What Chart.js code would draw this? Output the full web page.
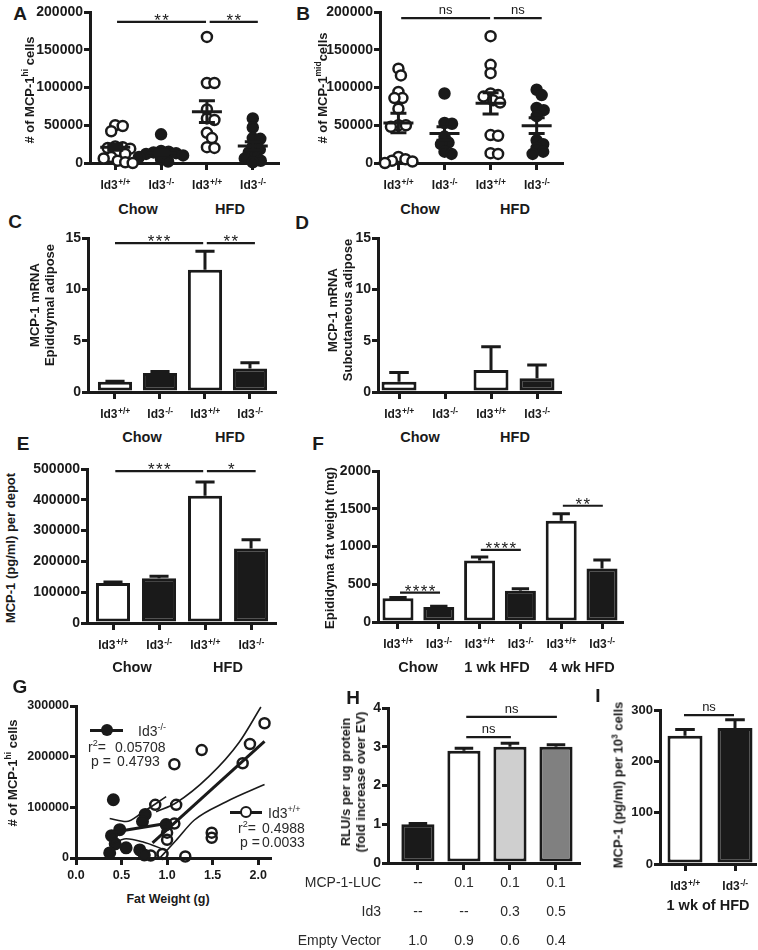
<!DOCTYPE html>
<html><head><meta charset="utf-8">
<script src="https://cdn.jsdelivr.net/npm/chart.js@4.4.1/dist/chart.umd.min.js"></script>
<style>
body{margin:0;background:#fff;width:758px;height:950px;position:relative;overflow:hidden;font-family:'Liberation Sans',Arial,sans-serif;color:#1a1a1a}
canvas{position:absolute}
.t{position:absolute;white-space:nowrap;font-weight:bold;transform:translate(-50%,-50%);line-height:1}
.lt{font-size:19px}
.gl{font-size:14.5px}
.yt{position:absolute;white-space:nowrap;font-weight:bold;font-size:13px;transform:translate(-50%,-50%) rotate(-90deg);text-align:center;line-height:15px}
.n{position:absolute;white-space:nowrap;font-size:14px;color:#2a2a2a;transform:translateY(-50%);line-height:1}
sup{font-size:65%;line-height:0}
</style></head><body>
<script>
// ================= DATA =================
const genoLabels = [['Id3','+/+'],['Id3','-/-'],['Id3','+/+'],['Id3','-/-']];
const fLabels = [['Id3','+/+'],['Id3','-/-'],['Id3','+/+'],['Id3','-/-'],['Id3','+/+'],['Id3','-/-']];
const iLabels = [['Id3','+/+'],['Id3','-/-']];

// A: # of MCP-1hi cells (individual mice)
const A_wtChow = [50000, 49000, 42000, 22000, 21000, 20000, 19000, 13000, 12000, 8000, 6000, 3000, 1000, 0];
const A_koChow = [38000, 16000, 15000, 14000, 13000, 12000, 10000, 8000, 5000, 2000];
const A_wtHfd  = [167000, 106000, 106000, 71000, 59000, 57000, 40000, 33000, 21000, 20000];
const A_koHfd  = [59000, 47000, 33000, 32000, 22000, 18000, 14000, 10000, 6000, 3000, 1000];
const A_mean = [21000, 13500, 68000, 22500];
const A_sem  = [4000, 3300, 14500, 5500];

// B: # of MCP-1mid cells
const B_wtChow = [125000, 116000, 94000, 86000, 86000, 72000, 50000, 50000, 48000, 8000, 5000, 3000, 2000, 0];
const B_koChow = [92000, 53000, 52000, 35000, 27000, 25000, 15000, 12000];
const B_wtHfd  = [168000, 130000, 119000, 92000, 90000, 88000, 83000, 80000, 37000, 36000, 13000, 12000];
const B_koHfd  = [97000, 90000, 73000, 70000, 62000, 30000, 25000, 20000, 15000, 12000];
const B_mean = [53000, 39000, 79000, 49500];
const B_sem  = [13000, 9000, 14000, 10500];

// C: MCP-1 mRNA epididymal adipose
const C_mean = [1.0, 1.85, 11.9, 2.3];
const C_err  = [0.05, 0.15, 1.8, 0.55];
// D: MCP-1 mRNA subcutaneous adipose
const D_mean = [1.0, 0, 2.15, 1.33];
const D_err  = [0.9, 0, 2.25, 1.3];
// E: MCP-1 (pg/ml) per depot
const E_mean = [130000, 145000, 413000, 242000];
const E_err  = [3000, 7000, 45000, 28000];
// F: epididymal fat weight (mg)
const F_mean = [315, 200, 815, 415, 1340, 710];
const F_err  = [10, 8, 45, 25, 95, 110];
// G: fat weight (g) vs # MCP-1hi cells
const G_koX = [0.41, 0.76, 0.73, 0.99, 0.48, 0.39, 0.43, 0.70, 0.75, 0.37, 0.55];
const G_koY = [115000, 86000, 72000, 66000, 56000, 44000, 28000, 16000, 6000, 10000, 20000];
const G_wtX = [2.07, 1.91, 1.83, 1.38, 1.08, 1.10, 0.87, 1.08, 1.00, 1.00, 1.49, 1.49, 0.82, 0.95, 1.20];
const G_wtY = [266000, 225000, 187000, 213000, 185000, 105000, 105000, 68000, 50000, 36000, 50000, 40000, 5000, 8000, 3000];
const G_wtFitX = [0.84, 2.07], G_wtFitY = [30000, 230000];
const G_wtUpX = [0.88, 1.1, 1.46, 1.79, 2.03], G_wtUpY = [91000, 109000, 161000, 228000, 298000];
const G_wtLoX = [0.92, 1.1, 1.3, 1.65, 2.07], G_wtLoY = [0, 35000, 75000, 111000, 145000];
const G_koFitX = [0.37, 0.99], G_koFitY = [50000, 68000];
const G_koUpX = [0.37, 0.55, 0.73, 0.99], G_koUpY = [78000, 72000, 90000, 121000];
const G_koLoX = [0.37, 0.55, 0.73, 0.99], G_koLoY = [25000, 38000, 32000, 15000];
// H: luciferase
const H_mean = [1.0, 2.9, 3.0, 3.0];
const H_err  = [0.02, 0.06, 0.09, 0.05];
const H_rowLabels = ['MCP-1-LUC', 'Id3', 'Empty Vector'];
const H_rows = [['--','0.1','0.1','0.1'], ['--','--','0.3','0.5'], ['1.0','0.9','0.6','0.4']];
// I: MCP-1 per 10^3 cells
const I_mean = [250, 265];
const I_err  = [12, 16];

// ================= SETUP =================
const INK = '#1a1a1a';
const FONT = "'Liberation Sans', Arial, sans-serif";
Chart.defaults.font.family = FONT;
Chart.defaults.color = INK;
Chart.defaults.animation = false;
Chart.defaults.responsive = false;
Chart.defaults.devicePixelRatio = 1;
Chart.defaults.plugins.legend.display = false;
Chart.defaults.plugins.tooltip.enabled = false;

const errPlugin = {
  id: 'errbars',
  afterDatasetsDraw(chart, args, opts) {
    if (!opts.err) return;
    const meta = chart.getDatasetMeta(0), ys = chart.scales.y, ctx = chart.ctx;
    ctx.save(); ctx.strokeStyle = INK; ctx.lineWidth = 3; ctx.lineCap = 'butt';
    meta.data.forEach((bar, i) => {
      const e = opts.err[i]; if (!e) return;
      const v = chart.data.datasets[0].data[i].y;
      const y0 = ys.getPixelForValue(v), y1 = ys.getPixelForValue(v + e);
      const cw = bar.width * 0.28;
      ctx.beginPath(); ctx.moveTo(bar.x, y0); ctx.lineTo(bar.x, y1);
      ctx.moveTo(bar.x - cw, y1); ctx.lineTo(bar.x + cw, y1); ctx.stroke();
    });
    ctx.restore();
  }
};
const meanPlugin = {
  id: 'meansem',
  afterDatasetsDraw(chart, args, opts) {
    if (!opts.mean) return;
    const xs = chart.scales.x, ys = chart.scales.y, ctx = chart.ctx;
    ctx.save(); ctx.strokeStyle = INK; ctx.lineWidth = 3;
    opts.mean.forEach((m, i) => {
      const cx = xs.getPixelForValue(i + 1);
      const y = ys.getPixelForValue(m), yu = ys.getPixelForValue(m + opts.sem[i]), yl = ys.getPixelForValue(m - opts.sem[i]);
      ctx.beginPath();
      ctx.moveTo(cx - 15, y); ctx.lineTo(cx + 15, y);
      ctx.moveTo(cx, yu); ctx.lineTo(cx, yl);
      ctx.moveTo(cx - 8, yu); ctx.lineTo(cx + 8, yu);
      ctx.moveTo(cx - 8, yl); ctx.lineTo(cx + 8, yl);
      ctx.stroke();
    });
    ctx.restore();
  }
};
const sigPlugin = {
  id: 'sig',
  afterDraw(chart, args, opts) {
    if (!opts.items) return;
    const xs = chart.scales.x, ys = chart.scales.y, ctx = chart.ctx;
    ctx.save();
    opts.items.forEach(it => {
      const x1 = xs.getPixelForValue(it.a), x2 = xs.getPixelForValue(it.b), y = ys.getPixelForValue(it.y);
      ctx.strokeStyle = INK; ctx.lineWidth = 2.2;
      ctx.beginPath(); ctx.moveTo(x1, y); ctx.lineTo(x2, y); ctx.stroke();
      ctx.fillStyle = INK; ctx.textAlign = 'center'; ctx.textBaseline = 'alphabetic';
      if (it.t === 'ns') { ctx.font = '13px ' + FONT; ctx.fillText(it.t, (x1 + x2) / 2, y - 4); }
      else { ctx.font = '17px ' + FONT; ctx.fillText(it.t.split('').join('\u200A'), (x1 + x2) / 2, y + 4); }
    });
    ctx.restore();
  }
};
const xlabPlugin = {
  id: 'xlab',
  afterDraw(chart, args, opts) {
    if (!opts.labels) return;
    const xs = chart.scales.x, ctx = chart.ctx;
    const yb = chart.chartArea.bottom + 26;
    ctx.save(); ctx.fillStyle = INK; ctx.textBaseline = 'alphabetic'; ctx.textAlign = 'left';
    opts.labels.forEach((lab, i) => {
      const x = xs.getPixelForValue(i + 1);
      ctx.font = 'bold 12px ' + FONT; const w1 = ctx.measureText(lab[0]).width;
      ctx.font = 'bold 8.5px ' + FONT; const w2 = ctx.measureText(lab[1]).width;
      const x0 = x - (w1 + w2) / 2;
      ctx.font = 'bold 12px ' + FONT; ctx.fillText(lab[0], x0, yb);
      ctx.font = 'bold 8.5px ' + FONT; ctx.fillText(lab[1], x0 + w1 + 0.5, yb - 4.5);
    });
    ctx.restore();
  }
};
const tablePlugin = {
  id: 'tbl',
  afterDraw(chart, args, opts) {
    if (!opts.rows) return;
    const xs = chart.scales.x, ctx = chart.ctx, b = chart.chartArea.bottom;
    ctx.save(); ctx.fillStyle = '#2a2a2a'; ctx.font = '14px ' + FONT; ctx.textBaseline = 'middle';
    opts.rows.forEach((row, r) => {
      const y = b + 20 + r * 29;
      ctx.textAlign = 'right'; ctx.fillText(opts.rowLabels[r], chart.chartArea.left - 7, y);
      ctx.textAlign = 'center';
      row.forEach((v, i) => ctx.fillText(v, xs.getPixelForValue(i + 1), y));
    });
    ctx.restore();
  }
};
Chart.register(errPlugin, meanPlugin, sigPlugin, xlabPlugin, tablePlugin);

function makeCanvas(plot, pad) {
  const c = document.createElement('canvas');
  const L = plot.l - pad.l, T = plot.t - pad.t;
  const W = plot.r + pad.r - L, H = plot.b + pad.b - T;
  c.width = W; c.height = H;
  c.style.left = L + 'px'; c.style.top = T + 'px';
  c.style.width = W + 'px'; c.style.height = H + 'px';
  document.body.appendChild(c);
  return c;
}
function yScale(min, max, ticks, w, size, fmt) {
  return {
    type: 'linear', min, max,
    afterBuildTicks: s => { s.ticks = ticks.map(v => ({ value: v })); },
    afterFit: s => { s.width = w; },
    border: { color: INK, width: 3 },
    grid: { display: true, drawOnChartArea: false, drawTicks: true, tickLength: 6, tickWidth: 3, tickColor: INK, color: INK, lineWidth: 3 },
    ticks: { font: { size, weight: 'bold' }, color: INK, padding: 1, callback: v => fmt ? fmt(v) : String(v) }
  };
}
function xScale(min, max, ticks, h, show, size, fmt) {
  return {
    type: 'linear', min, max, offset: false,
    afterBuildTicks: s => { s.ticks = ticks.map(v => ({ value: v })); },
    afterFit: s => { s.height = h; },
    border: { color: INK, width: 3 },
    grid: { display: true, offset: false, drawOnChartArea: false, drawTicks: true, tickLength: 7, tickWidth: 3, tickColor: INK, color: INK, lineWidth: 3 },
    ticks: { display: !!show, font: { size: size || 12, weight: 'bold' }, color: INK, padding: 3, maxRotation: 0, callback: v => fmt ? fmt(v) : String(v) }
  };
}
function layoutOf(pad) { return { padding: { left: 0, top: pad.t, right: pad.r, bottom: 0 }, autoPadding: false }; }

function barPanel(plot, pad, c) {
  const cv = makeCanvas(plot, pad);
  return new Chart(cv, {
    type: 'bar',
    data: { datasets: [{ data: c.values.map((v, i) => ({ x: i + 1, y: v })), backgroundColor: c.colors, borderColor: INK, borderWidth: 3, borderSkipped: false, barPercentage: c.bp, categoryPercentage: 1 }] },
    options: {
      layout: layoutOf(pad),
      scales: { x: xScale(c.xmin, c.xmax, c.values.map((_, i) => i + 1), pad.b, false), y: yScale(0, c.ymax, c.yticks, pad.l, c.ysize || 14) },
      plugins: { errbars: { err: c.err }, sig: { items: c.sig }, xlab: c.labels ? { labels: c.labels } : {}, tbl: c.table || {} }
    }
  });
}

function beeswarm(py, d) {
  const order = py.map((_, i) => i).sort((a, b) => py[a] - py[b]);
  const placed = [], off = new Array(py.length).fill(0);
  for (const i of order) {
    for (let k = 0; k < 600; k++) {
      const dx = (k % 2 === 1 ? 1 : -1) * Math.ceil(k / 2) * 0.5;
      if (placed.every(p => (p.x - dx) ** 2 + (p.y - py[i]) ** 2 >= d * d)) { off[i] = dx; placed.push({ x: dx, y: py[i] }); break; }
    }
  }
  return off;
}
function dotPanel(plot, pad, groups, mean, sem, sig, xmin, xmax) {
  const cv = makeCanvas(plot, pad);
  const R = 5;
  const ds = groups.map((g, gi) => ({
    data: g.vals.map(v => ({ x: gi + 1, y: v })),
    pointRadius: R, pointBorderWidth: 2.5, pointBorderColor: INK,
    pointBackgroundColor: g.filled ? INK : '#fff', clip: false
  }));
  const ch = new Chart(cv, {
    type: 'scatter',
    data: { datasets: ds },
    options: {
      layout: layoutOf(pad),
      scales: { x: xScale(xmin, xmax, [1, 2, 3, 4], pad.b, false), y: yScale(0, 200000, [0, 50000, 100000, 150000, 200000], pad.l, 14) },
      plugins: { meansem: { mean, sem }, sig: { items: sig }, xlab: { labels: genoLabels } }
    }
  });
  const xs = ch.scales.x, ys = ch.scales.y;
  const ppu = xs.getPixelForValue(1) - xs.getPixelForValue(0);
  groups.forEach((g, gi) => {
    const off = beeswarm(g.vals.map(v => ys.getPixelForValue(v)), 2 * R * 0.72);
    ch.data.datasets[gi].data = g.vals.map((v, i) => ({ x: gi + 1 + off[i] / ppu, y: v }));
  });
  ch.update('none');
  return ch;
}

// ================= PANELS =================
const P = { l: 60, t: 12, r: 8, b: 35 };
dotPanel({ l: 90, t: 12, r: 278, b: 163 }, P,
  [{ vals: A_wtChow }, { vals: A_koChow, filled: true }, { vals: A_wtHfd }, { vals: A_koHfd, filled: true }],
  A_mean, A_sem,
  [{ a: 1.04, b: 2.98, y: 187000, t: '**' }, { a: 3.06, b: 4.11, y: 187000, t: '**' }], 0.45, 4.55);
dotPanel({ l: 380, t: 12, r: 562, b: 163 }, P,
  [{ vals: B_wtChow }, { vals: B_koChow, filled: true }, { vals: B_wtHfd }, { vals: B_koHfd, filled: true }],
  B_mean, B_sem,
  [{ a: 1.06, b: 2.99, y: 192000, t: 'ns' }, { a: 3.07, b: 4.11, y: 192000, t: 'ns' }], 0.6, 4.55);

const WB = ['#fff', INK, '#fff', INK];
barPanel({ l: 88, t: 238, r: 275, b: 392 }, P, { values: C_mean, err: C_err, colors: WB, bp: 0.76, xmin: 0.4, xmax: 4.556, ymax: 15, yticks: [0, 5, 10, 15], labels: genoLabels,
  sig: [{ a: 1.0, b: 2.96, y: 14.5, t: '***' }, { a: 3.04, b: 4.11, y: 14.5, t: '**' }] });
barPanel({ l: 378, t: 238, r: 560, b: 392 }, P, { values: D_mean, err: D_err, colors: WB, bp: 0.76, xmin: 0.543, xmax: 4.5, ymax: 15, yticks: [0, 5, 10, 15], labels: genoLabels, sig: [] });
barPanel({ l: 87, t: 469, r: 275, b: 623 }, P, { values: E_mean, err: E_err, colors: WB, bp: 0.74, xmin: 0.435, xmax: 4.52, ymax: 500000, yticks: [0, 100000, 200000, 300000, 400000, 500000], labels: genoLabels,
  sig: [{ a: 1.05, b: 2.96, y: 493000, t: '***' }, { a: 3.04, b: 4.1, y: 493000, t: '*' }] });
barPanel({ l: 378, t: 471, r: 622, b: 622 }, P, { values: F_mean, err: F_err, colors: ['#fff', INK, '#fff', INK, '#fff', INK], bp: 0.76, xmin: 0.51, xmax: 6.49, ymax: 2000, yticks: [0, 500, 1000, 1500, 2000], labels: fLabels,
  sig: [{ a: 1.05, b: 2.03, y: 390, t: '****' }, { a: 3.03, b: 4.01, y: 955, t: '****' }, { a: 5.04, b: 6.02, y: 1540, t: '**' }] });
barPanel({ l: 388, t: 708, r: 579, b: 863 }, { l: 100, t: 12, r: 8, b: 90 }, { values: H_mean, err: H_err, colors: [INK, '#fff', '#cfcfcf', '#808080'], bp: 0.72, xmin: 0.35, xmax: 4.5, ymax: 4, yticks: [0, 1, 2, 3, 4],
  sig: [{ a: 2.05, b: 3.02, y: 3.25, t: 'ns' }, { a: 2.05, b: 4.02, y: 3.77, t: 'ns' }], table: { rows: H_rows, rowLabels: H_rowLabels } });
barPanel({ l: 660, t: 710, r: 755, b: 864 }, { l: 40, t: 12, r: 3, b: 35 }, { values: I_mean, err: I_err, colors: ['#fff', INK], bp: 0.7, xmin: 0.5, xmax: 2.4, ymax: 300, yticks: [0, 100, 200, 300], ysize: 13, labels: iLabels,
  sig: [{ a: 0.98, b: 1.98, y: 290, t: 'ns' }] });

// G scatter with regression
(function () {
  const pad = { l: 62, t: 12, r: 8, b: 30 };
  const cv = makeCanvas({ l: 76, t: 706, r: 270, b: 858 }, pad);
  const pts = (xa, ya) => xa.map((x, i) => ({ x, y: ya[i] }));
  const line = (xa, ya, w, tension) => ({ data: pts(xa, ya), showLine: true, pointRadius: 0, borderColor: INK, borderWidth: w, tension: tension, cubicInterpolationMode: 'monotone' });
  new Chart(cv, {
    type: 'scatter',
    data: { datasets: [
      line(G_wtFitX, G_wtFitY, 3, 0), line(G_koFitX, G_koFitY, 3, 0),
      line(G_wtUpX, G_wtUpY, 1.6, 0.4), line(G_wtLoX, G_wtLoY, 1.6, 0.4),
      line(G_koUpX, G_koUpY, 1.6, 0.4), line(G_koLoX, G_koLoY, 1.6, 0.4),
      { data: pts(G_koX, G_koY), pointRadius: 5.5, pointBorderWidth: 2, pointBorderColor: INK, pointBackgroundColor: INK, clip: false },
      { data: pts(G_wtX, G_wtY), pointRadius: 5, pointBorderWidth: 2.5, pointBorderColor: INK, pointBackgroundColor: 'rgba(255,255,255,0)', clip: false }
    ] },
    options: {
      layout: layoutOf(pad),
      scales: {
        x: xScale(0, 2.13, [0, 0.5, 1, 1.5, 2], pad.b, true, 12.5, v => v.toFixed(1)),
        y: yScale(0, 300000, [0, 100000, 200000, 300000], pad.l, 12.5)
      }
    }
  });
})();

// ================= TEXT =================
function T(html, x, y, cls, style) {
  const d = document.createElement('div'); d.className = cls; d.innerHTML = html;
  d.style.left = x + 'px'; d.style.top = y + 'px'; if (style) d.style.cssText += style;
  document.body.appendChild(d); return d;
}
[['A', 20, 13], ['B', 303, 13], ['C', 15, 221], ['D', 302, 222], ['E', 23, 443], ['F', 318, 443], ['G', 20, 686], ['H', 353, 697], ['I', 598, 695]]
  .forEach(a => T(a[0], a[1], a[2], 't lt'));
[['Chow', 138, 209], ['HFD', 230, 209], ['Chow', 420, 209], ['HFD', 515, 209],
 ['Chow', 142, 437], ['HFD', 230, 437], ['Chow', 420, 437], ['HFD', 515, 437],
 ['Chow', 132, 667], ['HFD', 228, 667], ['Chow', 418, 667], ['1 wk HFD', 497, 667], ['4 wk HFD', 582, 667],
 ['1 wk of HFD', 708, 905]].forEach(a => T(a[0], a[1], a[2], 't gl'));
T('Fat Weight (g)', 168, 899, 't', 'font-size:12.5px');
[['# of MCP-1<sup>hi</sup> cells', 29, 90], ['# of MCP-1<sup>mid</sup>cells', 322, 88],
 ['MCP-1 mRNA<br>Epididymal adipose', 42, 305], ['MCP-1 mRNA<br>Subcutaneous adipose', 340, 310],
 ['MCP-1 (pg/ml) per depot', 10, 548], ['Epididyma fat weight (mg)', 329, 548],
 ['# of MCP-1<sup>hi</sup> cells', 12, 773], ['RLU/s per ug protein<br>(fold increase over EV)', 353, 782],
 ['MCP-1 (pg/ml) per 10<sup>3</sup> cells', 618, 785]].forEach(a => T(a[0], a[1], a[2], 'yt'));
// G legend
T('', 90, 729, 'n', 'width:33px;height:3px;background:#1a1a1a;transform:none');
T('', 101, 724, 'n', 'width:12px;height:12px;border-radius:50%;background:#1a1a1a;transform:none');
T('Id3<sup>-/-</sup>', 138, 731, 'n');
T('r<sup>2</sup>=', 88, 747, 'n'); T('0.05708', 115, 747, 'n');
T('p =', 91, 761, 'n'); T('0.4793', 117, 761, 'n');
T('', 230, 811, 'n', 'width:32px;height:3px;background:#1a1a1a;transform:none');
T('', 240, 806, 'n', 'width:8px;height:8px;border-radius:50%;background:#fff;border:2.5px solid #1a1a1a;transform:none');
T('Id3<sup>+/+</sup>', 268, 813, 'n');
T('r<sup>2</sup>=', 238, 828, 'n'); T('0.4988', 262, 828, 'n');
T('p =', 240, 842, 'n'); T('0.0033', 262, 842, 'n');
</script>
</body></html>
